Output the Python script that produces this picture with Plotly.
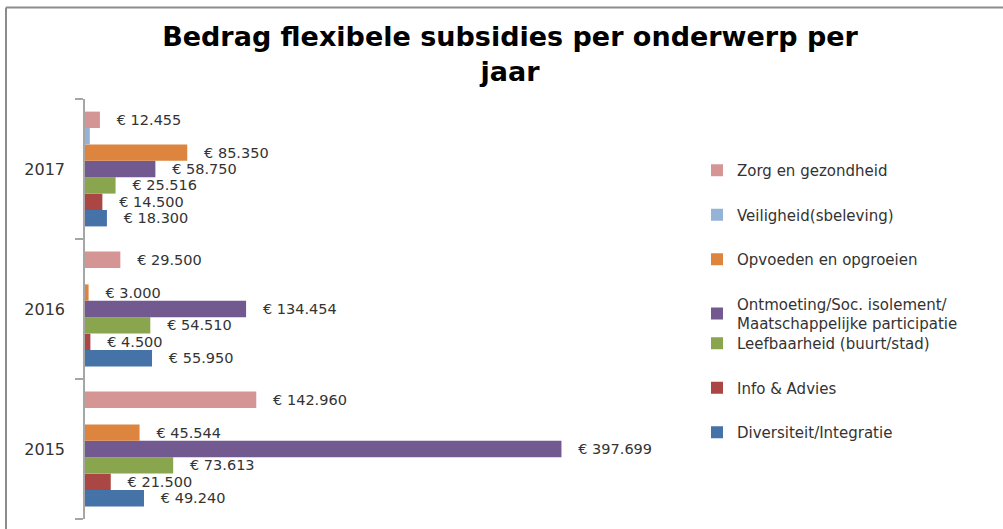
import plotly.graph_objects as go

years = ["2015", "2016", "2017"]

series_names = [
    "Zorg en gezondheid",
    "Veiligheid(sbeleving)",
    "Opvoeden en opgroeien",
    "Ontmoeting/Soc. isolement/<br>Maatschappelijke participatie",
    "Leefbaarheid (buurt/stad)",
    "Info & Advies",
    "Diversiteit/Integratie",
]

zorg = [142960, 29500, 12455]
veiligheid = [0, 0, 4000]
opvoeden = [45544, 3000, 85350]
ontmoeting = [397699, 134454, 58750]
leefbaarheid = [73613, 54510, 25516]
info = [21500, 4500, 14500]
diversiteit = [49240, 55950, 18300]

# labels shown in the chart (Veiligheid has no data labels)
show_label = [True, False, True, True, True, True, True]

colors = ["#D69595", "#95B3D7", "#DD843E", "#725990", "#89A54E", "#AA4643", "#4572A7"]

all_values = [zorg, veiligheid, opvoeden, ontmoeting, leefbaarheid, info, diversiteit]

FONT = "DejaVu Sans"
TXT = "#333333"


def fmt(v):
    return "\u00a0\u00a0\u00a0€ " + f"{v:,}".replace(",", ".")


fig = go.Figure()
# add in reverse so that the first series sits at the top of each group
for i in reversed(range(len(series_names))):
    vals = all_values[i]
    texts = [fmt(v) if (show_label[i] and v > 0) else "" for v in vals]
    fig.add_trace(go.Bar(
        y=years, x=vals, orientation="h", name=series_names[i],
        marker=dict(color=colors[i], line=dict(width=0)),
        text=texts, textposition="outside", constraintext="none",
        cliponaxis=False,
        textfont=dict(family=FONT, size=14.5, color=TXT),
        legend="legend" if i < 4 else "legend2",
        legendgroup=str(i), legendrank=i + 1,
        hoverinfo="skip",
    ))

LX = (697 - 85) / 605

fig.update_layout(
    width=1003, height=529,
    margin=dict(l=85, r=313, t=99, b=10),
    paper_bgcolor="white", plot_bgcolor="white",
    barmode="group", bargap=0.18, bargroupgap=0,
    title=dict(
        text="<b>Bedrag flexibele subsidies per onderwerp per<br>jaar</b>",
        x=510 / 1003, xanchor="center", xref="container",
        y=1 - 46 / 529, yanchor="top", yref="container",
        font=dict(family="DejaVu Sans", size=27, color="black"),
    ),
    xaxis=dict(range=[0, 505000], visible=False, fixedrange=True),
    yaxis=dict(
        type="category", categoryorder="array", categoryarray=years,
        showline=True, linecolor="#A6A6A6", linewidth=1.5,
        ticks="outside", tickson="boundaries", ticklen=8, tickcolor="#A6A6A6",
        tickwidth=1.5, ticklabelstandoff=15,
        tickfont=dict(family=FONT, size=16, color=TXT),
        showgrid=False, zeroline=False,
    ),
    showlegend=True,
    legend=dict(
        x=LX, xanchor="left", y=(519 - 154) / 420, yanchor="top",
        traceorder="grouped", tracegroupgap=22, itemwidth=30,
        font=dict(family=FONT, size=15, color=TXT), bgcolor="rgba(0,0,0,0)",
    ),
    legend2=dict(
        x=LX, xanchor="left", y=(519 - 327) / 420, yanchor="top",
        traceorder="grouped", tracegroupgap=22, itemwidth=30,
        font=dict(family=FONT, size=15, color=TXT), bgcolor="rgba(0,0,0,0)",
    ),
    shapes=[
        dict(type="line", xref="paper", yref="paper",
             x0=-79 / 605, x1=-79 / 605, y0=-0.1, y1=(519 - 7.5) / 420,
             line=dict(color="#8C8C8C", width=2)),
        dict(type="line", xref="paper", yref="paper",
             x0=-79 / 605, x1=1.6, y0=(519 - 7.5) / 420, y1=(519 - 7.5) / 420,
             line=dict(color="#8C8C8C", width=2)),
    ],
)

fig.write_html(
    "out.html",
    config={"displayModeBar": False},
    post_script="document.body.style.margin='0';document.body.style.overflow='hidden';",
)
